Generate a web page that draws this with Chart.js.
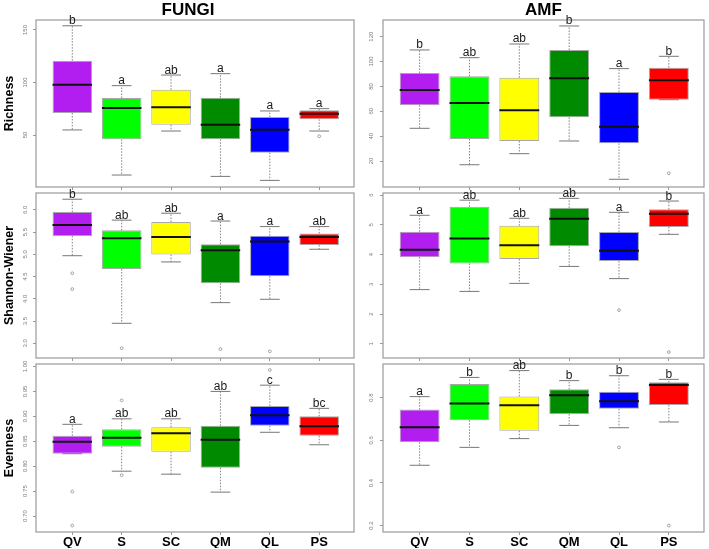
<!DOCTYPE html>
<html>
<head>
<meta charset="utf-8">
<script src="https://cdn.jsdelivr.net/npm/chart.js@4.4.1/dist/chart.umd.min.js"></script>
<style>
html,body{margin:0;padding:0;background:#fff;overflow:hidden;width:709px;height:549px;}
canvas{position:absolute;top:0;}
</style>
</head>
<body>
<script>
// ---------------- DATA ----------------
const categories = ['QV', 'S', 'SC', 'QM', 'QL', 'PS'];
const boxColors = ['#b21ef0', '#00ff00', '#ffff00', '#008a00', '#0000ff', '#ff0000'];

// FUNGI - Richness
const fungiRichnessLow    = [54.8, 11.9, 53.8, 10.6, 6.8, 53.8];
const fungiRichnessQ1     = [71.0, 45.9, 59.8, 45.9, 33.2, 64.9];
const fungiRichnessMedian = [97.9, 75.7, 76.4, 59.8, 55.1, 70.3];
const fungiRichnessQ3     = [120.8, 85.2, 93.1, 85.5, 67.1, 73.5];
const fungiRichnessHigh   = [154.0, 97.0, 107.1, 108.4, 72.9, 75.1];
const fungiRichnessOut    = [[], [], [], [], [], [48.8]];
const fungiRichnessLetters = ['b', 'a', 'ab', 'a', 'a', 'a'];
const fungiRichnessTicks  = ['50', '100', '150'];

// FUNGI - Shannon-Wiener
const fungiShannonLow    = [4.97, 3.45, 4.83, 3.915, 3.99, 5.115];
const fungiShannonQ1     = [5.415, 4.67, 4.995, 4.35, 4.51, 5.21];
const fungiShannonMedian = [5.66, 5.36, 5.39, 5.09, 5.29, 5.39];
const fungiShannonQ3     = [5.95, 5.54, 5.73, 5.23, 5.42, 5.47];
const fungiShannonHigh   = [6.24, 5.77, 5.925, 5.75, 5.625, 5.625];
const fungiShannonOut    = [[4.575, 4.22], [2.89], [], [2.87], [2.82], []];
const fungiShannonLetters = ['b', 'ab', 'ab', 'a', 'a', 'ab'];
const fungiShannonTicks  = ['3.0', '3.5', '4.0', '4.5', '5.0', '5.5', '6.0'];

// FUNGI - Evenness
const fungiEvennessLow    = [0.825, 0.790, 0.784, 0.748, 0.868, 0.843];
const fungiEvennessQ1     = [0.825, 0.839, 0.829, 0.797, 0.881, 0.861];
const fungiEvennessMedian = [0.849, 0.857, 0.866, 0.853, 0.902, 0.880];
const fungiEvennessQ3     = [0.861, 0.874, 0.878, 0.881, 0.921, 0.900];
const fungiEvennessHigh   = [0.884, 0.895, 0.895, 0.950, 0.9625, 0.916];
const fungiEvennessOut    = [[0.749, 0.681], [0.932, 0.782], [], [], [0.993], []];
const fungiEvennessLetters = ['a', 'ab', 'ab', 'ab', 'c', 'bc'];
const fungiEvennessTicks  = ['0.70', '0.75', '0.80', '0.85', '0.90', '0.95', '1.00'];

// AMF - Richness
const amfRichnessLow    = [46.3, 17.0, 25.9, 36.1, 5.3, 69.3];
const amfRichnessQ1     = [64.8, 37.7, 36.1, 55.1, 34.2, 69.3];
const amfRichnessMedian = [77.1, 66.6, 60.8, 86.5, 47.6, 84.9];
const amfRichnessQ3     = [90.8, 88.1, 87.0, 109.3, 75.5, 95.1];
const amfRichnessHigh   = [109.3, 103.1, 114.1, 128.6, 94.3, 104.2];
const amfRichnessOut    = [[], [], [], [], [], [10.1]];
const amfRichnessLetters = ['b', 'ab', 'ab', 'b', 'a', 'b'];
const amfRichnessTicks  = ['20', '40', '60', '80', '100', '120'];

// AMF - Shannon-Wiener
const amfShannonLow    = [2.82, 2.76, 3.03, 3.60, 3.19, 4.68];
const amfShannonQ1     = [3.91, 3.70, 3.85, 4.28, 3.78, 4.93];
const amfShannonMedian = [4.16, 4.54, 4.31, 5.20, 4.13, 5.37];
const amfShannonQ3     = [4.77, 5.61, 4.97, 5.57, 4.76, 5.52];
const amfShannonHigh   = [5.32, 5.83, 5.22, 5.89, 5.42, 5.80];
const amfShannonOut    = [[], [], [], [], [2.13], [0.72]];
const amfShannonLetters = ['a', 'ab', 'ab', 'ab', 'a', 'b'];
const amfShannonTicks  = ['1', '2', '3', '4', '5', '6'];

// AMF - Evenness
const amfEvennessLow    = [0.483, 0.567, 0.608, 0.670, 0.659, 0.686];
const amfEvennessQ1     = [0.591, 0.694, 0.645, 0.723, 0.748, 0.766];
const amfEvennessMedian = [0.661, 0.773, 0.764, 0.811, 0.783, 0.859];
const amfEvennessQ3     = [0.744, 0.864, 0.806, 0.839, 0.828, 0.872];
const amfEvennessHigh   = [0.805, 0.895, 0.927, 0.880, 0.903, 0.886];
const amfEvennessOut    = [[], [], [], [], [0.567], [0.2]];
const amfEvennessLetters = ['a', 'b', 'ab', 'b', 'b', 'b'];
const amfEvennessTicks  = ['0.2', '0.4', '0.6', '0.8'];

// ---------------- LAYOUT / STYLE ----------------
const NARROW = "'Liberation Sans Narrow','Arial Narrow','Liberation Sans',Arial,sans-serif";
const SANS = "'Liberation Sans',Arial,sans-serif";
const H = 549;
const COLS = [
  {left: 0,   width: 360, padLeft: 22, areaLeft: 36,  areaRight: 354, labelOffset: 11, titleFull: true},
  {left: 360, width: 349, padLeft: 0,  areaLeft: 383, areaRight: 704, labelOffset: 12, titleFull: false}
];
const ROWS = [{top: 20, bottom: 187}, {top: 193, bottom: 358}, {top: 364, bottom: 532}];

const panels = [
  {col: 0, row: 0, title: 'FUNGI', yTitle: 'Richness', low: fungiRichnessLow, q1: fungiRichnessQ1, med: fungiRichnessMedian, q3: fungiRichnessQ3, high: fungiRichnessHigh, out: fungiRichnessOut, letters: fungiRichnessLetters, ticks: fungiRichnessTicks, yMin: 0.5, yMax: 159.5},
  {col: 0, row: 1, title: null, yTitle: 'Shannon-Wiener', low: fungiShannonLow, q1: fungiShannonQ1, med: fungiShannonMedian, q3: fungiShannonQ3, high: fungiShannonHigh, out: fungiShannonOut, letters: fungiShannonLetters, ticks: fungiShannonTicks, yMin: 2.67, yMax: 6.38},
  {col: 0, row: 2, title: null, yTitle: 'Evenness', low: fungiEvennessLow, q1: fungiEvennessQ1, med: fungiEvennessMedian, q3: fungiEvennessQ3, high: fungiEvennessHigh, out: fungiEvennessOut, letters: fungiEvennessLetters, ticks: fungiEvennessTicks, yMin: 0.668, yMax: 1.005},
  {col: 1, row: 0, title: 'AMF', yTitle: null, low: amfRichnessLow, q1: amfRichnessQ1, med: amfRichnessMedian, q3: amfRichnessQ3, high: amfRichnessHigh, out: amfRichnessOut, letters: amfRichnessLetters, ticks: amfRichnessTicks, yMin: -0.9, yMax: 133.4},
  {col: 1, row: 1, title: null, yTitle: null, low: amfShannonLow, q1: amfShannonQ1, med: amfShannonMedian, q3: amfShannonQ3, high: amfShannonHigh, out: amfShannonOut, letters: amfShannonLetters, ticks: amfShannonTicks, yMin: 0.52, yMax: 6.07},
  {col: 1, row: 2, title: null, yTitle: null, low: amfEvennessLow, q1: amfEvennessQ1, med: amfEvennessMedian, q3: amfEvennessQ3, high: amfEvennessHigh, out: amfEvennessOut, letters: amfEvennessLetters, ticks: amfEvennessTicks, yMin: 0.170, yMax: 0.958}
];

const tickFont = {size: 6, family: NARROW};
const yTitleFont = {size: 12.5, weight: 'bold', family: SANS, lineHeight: '15px'};
const measureCtx = document.createElement('canvas').getContext('2d');
function widest(labels) {
  measureCtx.font = tickFont.size + 'px ' + tickFont.family;
  return Math.max(...labels.map(l => measureCtx.measureText(l).width));
}

const framePlugin = {
  id: 'frame',
  afterDatasetsDraw(chart) {
    const {ctx, chartArea: a} = chart;
    ctx.save();
    ctx.strokeStyle = '#9a9a9a';
    ctx.lineWidth = 1.2;
    ctx.strokeRect(a.left, a.top, a.right - a.left, a.bottom - a.top);
    ctx.restore();
  }
};

function letterPlugin(p) {
  return {
    id: 'letters',
    afterDraw(chart) {
      const ctx = chart.ctx, xs = chart.scales.x, ys = chart.scales.y;
      ctx.save();
      ctx.font = '12px ' + SANS;
      ctx.fillStyle = '#1a1a1a';
      ctx.textAlign = 'center';
      ctx.textBaseline = 'alphabetic';
      p.letters.forEach((l, i) => {
        ctx.fillText(l, xs.getPixelForValue(i + 1), ys.getPixelForValue(p.high[i]) - 1.5);
      });
      ctx.restore();
    }
  };
}

function build(p) {
  const col = COLS[p.col], row = ROWS[p.row];
  const isBottom = p.row === 2;
  const cv = document.createElement('canvas');
  cv.width = col.width; cv.height = H;
  cv.style.left = col.left + 'px';
  document.body.appendChild(cv);

  const boxes = [], whiskers = [], caps = [], medians = [], outliers = [];
  categories.forEach((c, i) => {
    const x = i + 1;
    boxes.push({x: x, y: [p.q1[i], p.q3[i]]});
    whiskers.push({x: x, y: p.q3[i]}, {x: x, y: p.high[i]}, {x: x, y: null},
                  {x: x, y: p.q1[i]}, {x: x, y: p.low[i]}, {x: x, y: null});
    caps.push({x: x - 0.2, y: p.high[i]}, {x: x + 0.2, y: p.high[i]}, {x: x, y: null},
              {x: x - 0.2, y: p.low[i]}, {x: x + 0.2, y: p.low[i]}, {x: x, y: null});
    medians.push({x: x - 0.4, y: p.med[i]}, {x: x + 0.4, y: p.med[i]}, {x: x, y: null});
    p.out[i].forEach(v => outliers.push({x: x, y: v}));
  });

  const yAxisW = col.areaLeft - col.left - col.padLeft;
  const titleH = p.title ? 20 : 0;
  const xH = isBottom ? 16 : 4;
  const pad = {
    left: col.padLeft,
    right: col.left + col.width - col.areaRight,
    top: row.top - titleH,
    bottom: H - row.bottom - xH
  };
  const tickPad = col.labelOffset - 3 - widest(p.ticks) / 2;
  // y-title centre wanted at x = 9.5 inside the canvas
  const yTitlePadTop = 9.5 - col.padLeft - 7.5;

  new Chart(cv, {
    type: 'bar',
    data: {
      datasets: [
        {type: 'line', data: medians, borderColor: '#111', borderWidth: 2, pointRadius: 0, order: 0, spanGaps: false},
        {type: 'scatter', data: outliers, pointRadius: 1.4, pointBorderWidth: 0.8, pointBorderColor: '#8f8f8f', pointBackgroundColor: 'rgba(0,0,0,0)', order: 0},
        {type: 'line', data: caps, borderColor: '#777', borderWidth: 1, pointRadius: 0, order: 1, spanGaps: false},
        {type: 'bar', data: boxes, backgroundColor: boxColors, borderColor: 'rgba(110,110,110,0.6)', borderWidth: 1, borderSkipped: false, barPercentage: 0.8, categoryPercentage: 1, order: 2},
        {type: 'line', data: whiskers, borderColor: '#808080', borderWidth: 1, borderDash: [1.5, 1.5], pointRadius: 0, order: 3, spanGaps: false}
      ]
    },
    options: {
      responsive: false,
      animation: false,
      events: [],
      layout: {padding: pad},
      plugins: {
        legend: {display: false},
        tooltip: {enabled: false},
        title: {
          display: !!p.title, text: p.title || '', fullSize: col.titleFull,
          font: {size: 17, weight: 'bold', family: SANS, lineHeight: '19px'},
          color: '#000', padding: {top: 1, bottom: 0}
        }
      },
      scales: {
        x: {
          type: 'linear', min: 0.265, max: 6.705, offset: false,
          afterBuildTicks: s => { s.ticks = categories.map((c, i) => ({value: i + 1})); },
          afterFit: s => { s.height = xH; },
          ticks: {
            autoSkip: false, minRotation: 0, maxRotation: 0, padding: 0,
            font: {size: 13, weight: 'bold', family: NARROW, lineHeight: '14px'},
            color: '#000',
            callback: (v, idx) => isBottom ? categories[idx] : ''
          },
          grid: {drawOnChartArea: false, drawTicks: true, tickLength: 3, color: '#999', offset: false},
          border: {display: false}
        },
        y: {
          type: 'linear', min: p.yMin, max: p.yMax, beginAtZero: false,
          afterBuildTicks: s => { s.ticks = p.ticks.map(t => ({value: parseFloat(t)})); },
          afterFit: s => { s.width = yAxisW; },
          ticks: {
            autoSkip: false, minRotation: 90, maxRotation: 90, crossAlign: 'center',
            padding: tickPad, font: tickFont, color: '#7a7a7a',
            callback: (v, idx) => p.ticks[idx]
          },
          grid: {drawOnChartArea: false, drawTicks: true, tickLength: 3, color: '#999'},
          border: {display: false},
          title: {
            display: !!p.yTitle, text: p.yTitle || '',
            font: yTitleFont,
            color: '#000', padding: {top: yTitlePadTop, bottom: 0}
          }
        }
      }
    },
    plugins: [framePlugin, letterPlugin(p)]
  });
}

panels.forEach(build);
</script>
</body>
</html>
